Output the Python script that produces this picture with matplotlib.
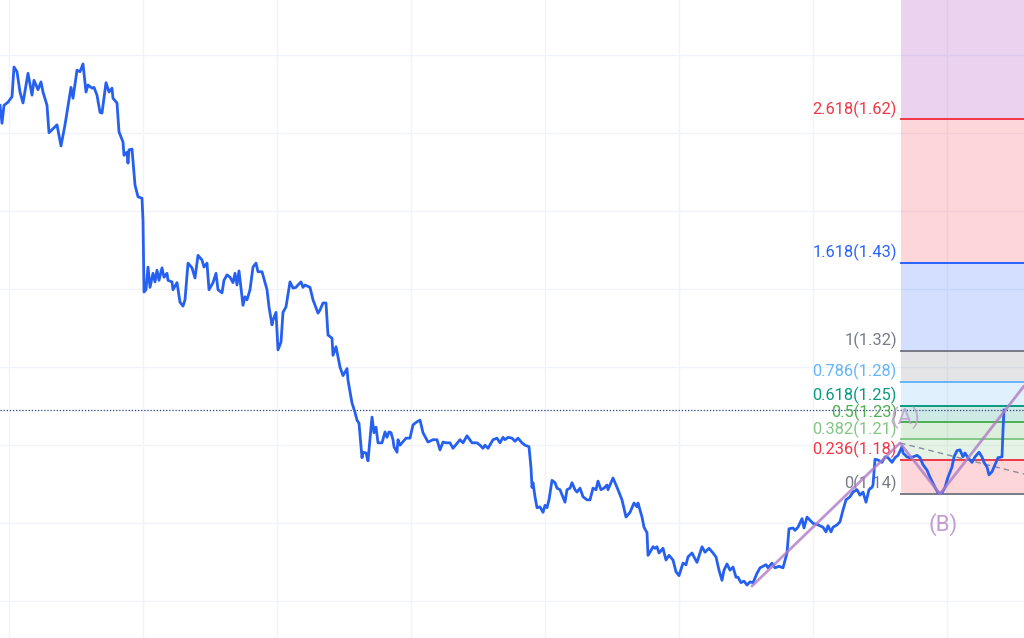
import numpy as np
import matplotlib
matplotlib.use("Agg")
import matplotlib.pyplot as plt

# price path (bar index, close)
bars = [0, 2, 4, 8, 12, 14, 17, 20, 23, 28, 32, 34, 38, 41, 43, 47, 49, 57, 61, 65,
        71, 73, 77, 80, 83, 86, 88, 92, 94, 97, 100, 102, 106, 109, 112, 113, 117, 119, 123, 124,
        127, 128, 129, 132, 135, 138, 142, 143, 144, 146, 148, 150, 153, 155, 157, 159, 162, 164, 167, 168,
        172, 173, 177, 180, 183, 185, 188, 192, 195, 198, 202, 204, 207, 209, 213, 216, 218, 222, 224, 227,
        230, 233, 235, 237, 239, 243, 245, 247, 250, 253, 256, 258, 262, 267, 269, 272, 273, 276, 278, 281,
        283, 286, 290, 293, 296, 298, 301, 303, 305, 310, 313, 318, 320, 323, 326, 328, 332, 333, 336, 340,
        343, 347, 348, 352, 355, 357, 359, 362, 363, 366, 368, 372, 374, 376, 378, 382, 385, 387, 389, 391,
        393, 394, 397, 398, 400, 406, 410, 413, 417, 420, 423, 428, 433, 437, 440, 443, 446, 450, 453, 460,
        463, 467, 472, 477, 480, 483, 485, 488, 493, 497, 500, 503, 505, 508, 512, 515, 518, 522, 525, 529,
        531, 532, 533, 535, 537, 540, 543, 545, 547, 549, 552, 555, 557, 560, 565, 567, 570, 572, 575, 577,
        580, 583, 587, 590, 593, 596, 598, 601, 604, 607, 608, 613, 616, 618, 622, 626, 630, 634, 637, 638,
        642, 644, 647, 648, 650, 653, 655, 657, 659, 663, 666, 669, 673, 676, 679, 683, 686, 688, 692, 694,
        697, 702, 705, 709, 713, 716, 719, 722, 724, 727, 730, 733, 736, 738, 741, 744, 747, 750, 753, 757,
        760, 763, 766, 768, 772, 775, 779, 783, 787, 789, 793, 795, 798, 802, 804, 807, 810, 813, 818, 823,
        826, 828, 831, 833, 837, 840, 843, 846, 850, 853, 857, 860, 863, 866, 869, 872, 873, 875, 878, 882,
        885, 888, 892, 895, 898, 902, 903, 907, 910, 913, 917, 920, 923, 927, 930, 935, 938, 942, 945, 948,
        952, 954, 957, 960, 963, 965, 968, 972, 975, 979, 982, 984, 987, 989, 992, 995, 998, 1002, 1003, 1004]
close = [1.635, 1.612, 1.635, 1.639, 1.646, 1.684, 1.678, 1.652, 1.638, 1.676, 1.648, 1.667, 1.655, 1.665, 1.652, 1.635, 1.600, 1.610, 1.583, 1.610,
         1.658, 1.644, 1.680, 1.678, 1.688, 1.652, 1.661, 1.657, 1.658, 1.648, 1.626, 1.625, 1.664, 1.652, 1.657, 1.644, 1.638, 1.601, 1.588, 1.571,
         1.575, 1.561, 1.578, 1.579, 1.533, 1.518, 1.516, 1.488, 1.396, 1.399, 1.428, 1.402, 1.420, 1.409, 1.424, 1.411, 1.427, 1.415, 1.420, 1.411,
         1.409, 1.399, 1.408, 1.383, 1.378, 1.386, 1.433, 1.427, 1.414, 1.443, 1.437, 1.428, 1.433, 1.399, 1.408, 1.420, 1.399, 1.395, 1.411, 1.418,
         1.415, 1.408, 1.420, 1.405, 1.423, 1.379, 1.390, 1.386, 1.399, 1.428, 1.433, 1.422, 1.422, 1.399, 1.377, 1.354, 1.360, 1.370, 1.322, 1.332,
         1.370, 1.377, 1.409, 1.401, 1.402, 1.405, 1.409, 1.402, 1.405, 1.402, 1.386, 1.369, 1.373, 1.382, 1.382, 1.341, 1.337, 1.315, 1.326, 1.300,
         1.289, 1.298, 1.283, 1.254, 1.242, 1.232, 1.228, 1.184, 1.191, 1.190, 1.180, 1.236, 1.216, 1.223, 1.203, 1.203, 1.217, 1.210, 1.217, 1.216,
         1.207, 1.198, 1.191, 1.207, 1.200, 1.209, 1.209, 1.226, 1.230, 1.232, 1.216, 1.204, 1.207, 1.207, 1.194, 1.204, 1.203, 1.203, 1.196, 1.207,
         1.203, 1.212, 1.203, 1.203, 1.200, 1.196, 1.200, 1.196, 1.207, 1.209, 1.203, 1.210, 1.207, 1.210, 1.209, 1.205, 1.209, 1.203, 1.200, 1.198,
         1.171, 1.146, 1.152, 1.134, 1.120, 1.121, 1.114, 1.123, 1.120, 1.130, 1.155, 1.152, 1.145, 1.143, 1.127, 1.143, 1.145, 1.152, 1.143, 1.140,
         1.145, 1.134, 1.130, 1.130, 1.145, 1.143, 1.154, 1.143, 1.145, 1.149, 1.143, 1.158, 1.149, 1.143, 1.130, 1.108, 1.114, 1.126, 1.121, 1.126,
         1.108, 1.095, 1.088, 1.059, 1.063, 1.070, 1.068, 1.070, 1.062, 1.068, 1.053, 1.059, 1.053, 1.038, 1.033, 1.049, 1.047, 1.057, 1.062, 1.057,
         1.050, 1.070, 1.063, 1.068, 1.062, 1.057, 1.040, 1.027, 1.040, 1.048, 1.040, 1.044, 1.031, 1.031, 1.024, 1.026, 1.021, 1.025, 1.024, 1.036,
         1.043, 1.045, 1.047, 1.043, 1.049, 1.043, 1.045, 1.043, 1.062, 1.093, 1.094, 1.091, 1.095, 1.106, 1.094, 1.108, 1.104, 1.100, 1.098, 1.095,
         1.089, 1.097, 1.089, 1.095, 1.098, 1.102, 1.117, 1.130, 1.134, 1.140, 1.143, 1.136, 1.140, 1.127, 1.143, 1.146, 1.149, 1.182, 1.181, 1.178,
         1.185, 1.184, 1.178, 1.184, 1.187, 1.198, 1.190, 1.185, 1.184, 1.185, 1.187, 1.184, 1.175, 1.168, 1.159, 1.146, 1.139, 1.139, 1.146, 1.159,
         1.172, 1.185, 1.193, 1.194, 1.185, 1.190, 1.184, 1.178, 1.185, 1.191, 1.185, 1.178, 1.172, 1.162, 1.166, 1.175, 1.184, 1.185, 1.219, 1.245]

last_price = 1.245

# trend based fib extension: start -> A -> B
fib_bars = [752, 900, 940]
fib_prices = [1.0197, 1.2028, 1.1375]
ext_end = (1024, 1.2757)      # where the B leg leaves the pane
dash_end = (1024, 1.1631)

fib_ratios = [0, 0.236, 0.382, 0.5, 0.618, 0.786, 1, 1.618, 2.618, 3.618]
fib_colors = ["#787b86", "#f23645", "#81c784", "#4caf50", "#089981",
              "#64b5f6", "#787b86", "#2962ff", "#f23645", "#9c27b0"]

price_grid = [1.0, 1.1, 1.2, 1.3, 1.4, 1.5, 1.6, 1.7]
time_grid = [9, 143, 277, 411, 545, 679, 813, 947]

fig = plt.figure(figsize=(10.24, 6.38), dpi=100)
ax = fig.add_axes([0, 0, 1, 1])
ax.set_xlim(0, 1024)
ax.set_ylim(0.9532, 1.7698)
for s in ax.spines.values():
    s.set_visible(False)
ax.set_xticks(time_grid)
ax.set_yticks(price_grid)
ax.tick_params(length=0, labelbottom=False, labelleft=False)
ax.grid(True, color="#f0f3fa", lw=1)
ax.set_axisbelow(True)

# fib levels
p0 = fib_prices[2]
span = fib_prices[1] - fib_prices[0]
levels = [p0 + r * span for r in fib_ratios]
box_x0 = fib_bars[1] + 1
for i in range(len(levels) - 1):
    ax.fill_between([box_x0, 1100], levels[i], levels[i + 1],
                    color=fib_colors[i + 1], alpha=0.2, lw=0, zorder=1)
for r, lv, c in zip(fib_ratios[:-1], levels[:-1], fib_colors[:-1]):
    ax.plot([box_x0, 1100], [lv, lv], color=c, lw=1.4, zorder=2)
    ax.annotate("%g(%.2f)" % (r, lv), xy=(box_x0, lv), xytext=(-3, 7.5),
                textcoords="offset points", ha="right", va="center",
                color=c, fontsize=11.8, family=["Roboto", "DejaVu Sans"], zorder=3)

# current price
ax.axhline(last_price, color="#2a3f80", lw=0.9, ls=(0, (1, 1.5)), zorder=2)

ax.plot([fib_bars[1], dash_end[0]], [fib_prices[1], dash_end[1]],
        color="#8a8d96", lw=1, ls=(0, (4, 3)), zorder=3)
ax.plot(bars, close, color="#2660f0", lw=2, zorder=4)
ax.plot(fib_bars + [ext_end[0]], fib_prices + [ext_end[1]],
        color="#b07cc6", lw=2, alpha=0.8, zorder=5, solid_capstyle="round")

ax.annotate("(A)", xy=(fib_bars[1], fib_prices[1]), xytext=(4, 18),
            textcoords="offset points", ha="center", va="center",
            color="#c39bd3", alpha=0.85, fontsize=16, family=["Roboto", "DejaVu Sans"], zorder=6)
ax.annotate("(B)", xy=(fib_bars[2], fib_prices[2]), xytext=(2, -22),
            textcoords="offset points", ha="center", va="center",
            color="#c39bd3", fontsize=16, family=["Roboto", "DejaVu Sans"], zorder=6)

fig.savefig("out.png", dpi=100)
